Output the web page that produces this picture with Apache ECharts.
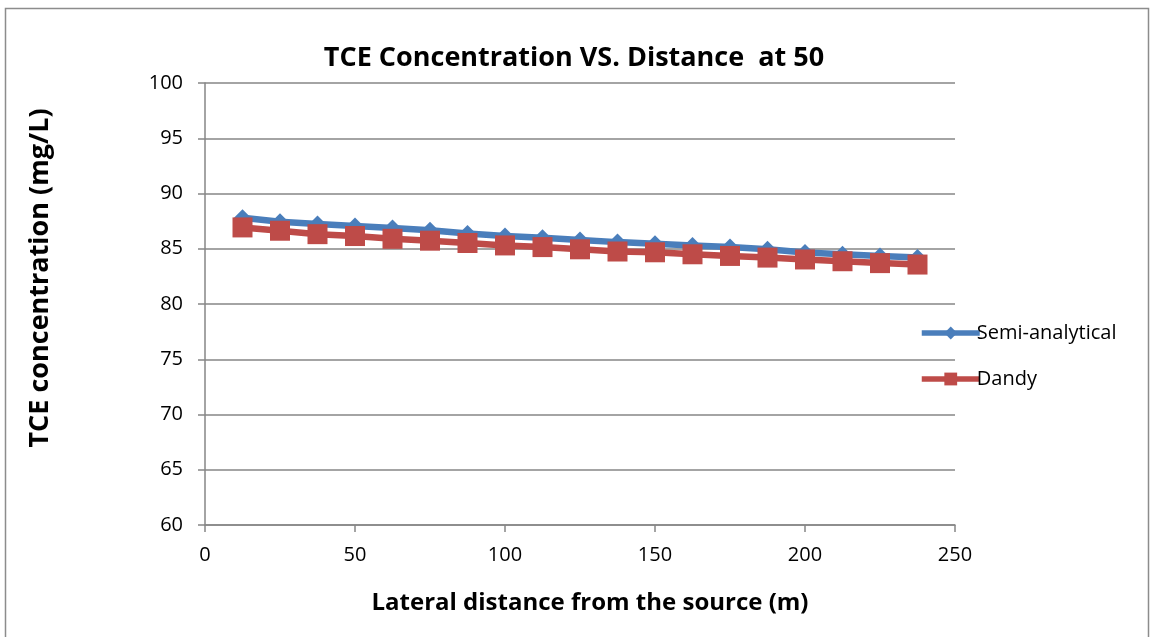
<!DOCTYPE html>
<html>
<head>
<meta charset="utf-8">
<script src="https://cdn.jsdelivr.net/npm/echarts@6/dist/echarts.min.js"></script>
<style>
  html, body { margin: 0; padding: 0; background: #ffffff; }
  #chart { width: 1153px; height: 637px; }
</style>
</head>
<body>
<div id="chart"></div>
<script>
// Lateral distance from the source (m)
const distances = [12.5, 25, 37.5, 50, 62.5, 75, 87.5, 100, 112.5, 125, 137.5, 150, 162.5, 175, 187.5, 200, 212.5, 225, 237.5];
// TCE concentration (mg/L)
const semiAnalytical = [87.8, 87.45, 87.25, 87.05, 86.88, 86.67, 86.38, 86.15, 86.0, 85.8, 85.6, 85.46, 85.3, 85.15, 84.95, 84.67, 84.5, 84.35, 84.2];
const dandy = [86.93, 86.63, 86.32, 86.15, 85.9, 85.73, 85.52, 85.3, 85.15, 84.95, 84.75, 84.68, 84.5, 84.35, 84.2, 84.03, 83.87, 83.7, 83.57];
const seriesNames = ['Semi-analytical', 'Dandy'];

const FONT = '"Open Sans", "Liberation Sans", sans-serif';
const AXIS_GRAY = '#868686';
const BLUE = '#4a7ebb';
const RED = '#be4b48';

const pair = (xs, ys) => xs.map((x, i) => [x, ys[i]]);

const chart = echarts.init(document.getElementById('chart'), null, { renderer: 'canvas' });
chart.setOption({
  backgroundColor: '#ffffff',
  animation: false,
  graphic: [
    {
      // outer chart frame
      type: 'rect',
      shape: { x: 5.5, y: 8.5, width: 1143, height: 640 },
      style: { fill: 'none', stroke: '#8c8c8c', lineWidth: 1.5 },
      silent: true
    },
    {
      // vertical axis title
      type: 'text',
      x: 40,
      y: 278,
      rotation: Math.PI / 2,
      style: {
        text: 'TCE concentration (mg/L)',
        fontFamily: FONT,
        fontWeight: 'bold',
        fontSize: 27,
        fill: '#000',
        align: 'center',
        verticalAlign: 'middle'
      },
      silent: true
    }
  ],
  title: {
    text: 'TCE Concentration VS. Distance  at 50',
    left: 569,
    top: 40,
    textAlign: 'center',
    textStyle: { fontFamily: FONT, fontWeight: 'bold', fontSize: 27, color: '#000' }
  },
  grid: { left: 205, right: 198, top: 83, bottom: 112, containLabel: false },
  legend: {
    orient: 'vertical',
    left: 914,
    top: 318,
    itemWidth: 58,
    itemHeight: 16,
    itemGap: 26,
    lineStyle: { width: 5.5 },
    textStyle: { fontFamily: FONT, fontSize: 20, color: '#000', padding: [0, 0, 0, -8] },
    data: seriesNames
  },
  xAxis: {
    type: 'value',
    min: 0, max: 250, interval: 50,
    axisLine: { show: true, lineStyle: { color: AXIS_GRAY, width: 1.5 } },
    axisTick: { show: true, inside: false, length: 7, lineStyle: { color: AXIS_GRAY, width: 1.5 } },
    splitLine: { show: false },
    axisLabel: { fontFamily: FONT, fontSize: 20, color: '#000', margin: 20 },
    name: 'Lateral distance from the source (m)',
    nameLocation: 'middle',
    nameGap: 66,
    nameTextStyle: { fontFamily: FONT, fontWeight: 'bold', fontSize: 24, color: '#000', padding: [0, 0, 0, 20] }
  },
  yAxis: {
    type: 'value',
    min: 60, max: 100, interval: 5,
    axisLine: { show: true, lineStyle: { color: AXIS_GRAY, width: 1.5 } },
    axisTick: { show: true, inside: false, length: 7, lineStyle: { color: AXIS_GRAY, width: 1.5 } },
    splitLine: { show: true, lineStyle: { color: AXIS_GRAY, width: 1.5 } },
    axisLabel: { fontFamily: FONT, fontSize: 20, color: '#000', margin: 22 }
  },
  series: [
    {
      name: seriesNames[0],
      type: 'line',
      data: pair(distances, semiAnalytical),
      symbol: 'diamond',
      symbolSize: [17, 17],
      lineStyle: { color: BLUE, width: 6.5 },
      itemStyle: { color: BLUE },
      z: 2
    },
    {
      name: seriesNames[1],
      type: 'line',
      data: pair(distances, dandy),
      symbol: 'rect',
      symbolSize: [20, 20],
      lineStyle: { color: RED, width: 6.5 },
      itemStyle: { color: RED },
      z: 3
    }
  ]
});
</script>
</body>
</html>
